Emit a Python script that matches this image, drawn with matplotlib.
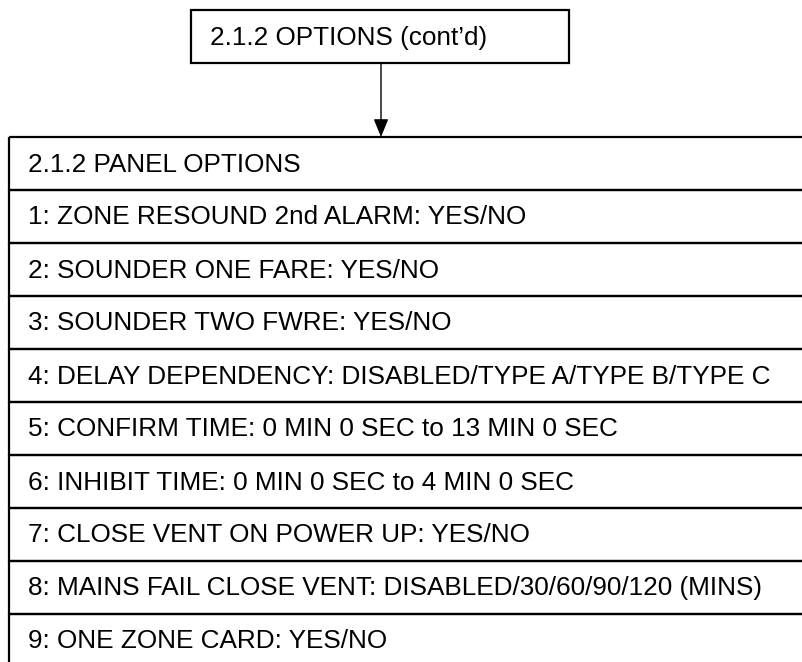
import matplotlib
matplotlib.use("Agg")
import matplotlib.pyplot as plt
from matplotlib.patches import Rectangle

plt.rcParams['font.family'] = ['Liberation Sans', 'DejaVu Sans']

title_text = "2.1.2 OPTIONS (cont\u2019d)"
header = "2.1.2 PANEL OPTIONS"
options = [
    "1: ZONE RESOUND 2nd ALARM: YES/NO",
    "2: SOUNDER ONE FARE: YES/NO",
    "3: SOUNDER TWO FWRE: YES/NO",
    "4: DELAY DEPENDENCY: DISABLED/TYPE A/TYPE B/TYPE C",
    "5: CONFIRM TIME: 0 MIN 0 SEC to 13 MIN 0 SEC",
    "6: INHIBIT TIME: 0 MIN 0 SEC to 4 MIN 0 SEC",
    "7: CLOSE VENT ON POWER UP: YES/NO",
    "8: MAINS FAIL CLOSE VENT: DISABLED/30/60/90/120 (MINS)",
    "9: ONE ZONE CARD: YES/NO",
]
rows = [header] + options

fs = 18.8

fig = plt.figure(figsize=(8.03, 6.62), dpi=100)
ax = fig.add_axes([0, 0, 1, 1])
ax.set_xlim(0, 803)
ax.set_ylim(662, 0)
ax.axis('off')

# top box
ax.add_patch(Rectangle((191, 10), 378, 53, fill=False, lw=1.6, ec='black'))
ax.text(210, 37.5, title_text, fontsize=fs, va='center', ha='left')

# arrow down to table
ax.annotate('', xy=(381, 137), xytext=(381, 63),
            arrowprops=dict(arrowstyle='-|>,head_length=1.1,head_width=0.45',
                            lw=1.0, color='black', shrinkA=0, shrinkB=0))

# table rows
top = 137
rh = 53
for i, txt in enumerate(rows):
    y = top + i * rh
    ax.add_patch(Rectangle((9, y), 820, rh, fill=False, lw=1.6, ec='black', clip_on=True))
    ax.text(28, y + rh / 2 + 1, txt, fontsize=fs, va='center', ha='left')

fig.savefig('out.png', dpi=100)
